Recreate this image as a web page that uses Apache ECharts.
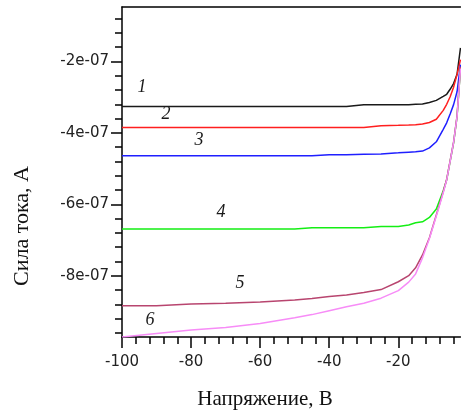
<!DOCTYPE html>
<html>
<head>
<meta charset="utf-8">
<script src="https://cdn.jsdelivr.net/npm/echarts@6/dist/echarts.min.js"></script>
<style>
  html, body { margin: 0; padding: 0; background: #fff; }
  #chart { width: 461px; height: 414px; }
</style>
</head>
<body>
<div id="chart"></div>
<script>
// Reverse-bias I–V curves of six samples.
// Voltage in volts; currents in units of 1e-7 A.
const voltage  = [-100, -90, -80, -70, -60, -50, -45, -40, -35, -30, -25, -20, -17, -15, -13, -11, -9, -7, -6, -5, -4, -3, -2];
const current1 = [-3.26, -3.26, -3.26, -3.26, -3.26, -3.26, -3.26, -3.26, -3.26, -3.21, -3.21, -3.21, -3.21, -3.20, -3.19, -3.15, -3.09, -2.98, -2.92, -2.78, -2.62, -2.36, -1.62];
const current2 = [-3.85, -3.85, -3.85, -3.85, -3.85, -3.85, -3.85, -3.85, -3.85, -3.85, -3.80, -3.79, -3.78, -3.77, -3.75, -3.71, -3.62, -3.37, -3.20, -2.99, -2.72, -2.37, -1.95];
const current3 = [-4.64, -4.64, -4.64, -4.64, -4.64, -4.64, -4.64, -4.61, -4.61, -4.60, -4.59, -4.56, -4.54, -4.53, -4.51, -4.42, -4.25, -3.90, -3.72, -3.47, -3.21, -2.85, -2.09];
const current4 = [-6.69, -6.69, -6.69, -6.69, -6.69, -6.69, -6.66, -6.66, -6.66, -6.66, -6.62, -6.62, -6.58, -6.52, -6.49, -6.37, -6.13, -5.62, -5.32, -4.80, -4.28, -3.55, -2.20];
const current5 = [-8.84, -8.84, -8.79, -8.77, -8.74, -8.68, -8.64, -8.58, -8.54, -8.47, -8.39, -8.17, -8.00, -7.78, -7.42, -6.94, -6.30, -5.65, -5.30, -4.78, -4.26, -3.53, -2.15];
const current6 = [-9.72, -9.62, -9.52, -9.45, -9.34, -9.18, -9.09, -8.98, -8.87, -8.77, -8.63, -8.42, -8.18, -7.95, -7.50, -6.96, -6.33, -5.68, -5.32, -4.80, -4.27, -3.55, -2.20];
const currentUnit = 1e-7;

const curveNames  = ['1', '2', '3', '4', '5', '6'];
const curveColors = ['#1a1a1a', '#ff1f1f', '#1f1fff', '#14ee14', '#b8456f', '#f78cf7'];

const xMajorTicks = [-100, -80, -60, -40, -20];
const xMinorTicks = [-96, -92, -88, -84, -76, -72, -68, -64, -56, -52, -48, -44, -36, -32, -28, -24, -16, -12, -8, -4];
const yMajorTicks = [-8e-7, -6e-7, -4e-7, -2e-7];
const yMinorTicks = [-9.6e-7, -9.2e-7, -8.8e-7, -8.4e-7, -7.6e-7, -7.2e-7, -6.8e-7, -6.4e-7,
                     -5.6e-7, -5.2e-7, -4.8e-7, -4.4e-7, -3.6e-7, -3.2e-7, -2.8e-7, -2.4e-7,
                     -1.6e-7, -1.2e-7, -0.8e-7];

const xMin = -100, xMax = -2;
const yMin = -9.717e-7, yMax = -0.476e-7;

const xTitle = 'Напряжение, В';
const yTitle = 'Сила тока, А';

const allCurrents = [current1, current2, current3, current4, current5, current6];

// "-2e-07" style exponent labels
function expLabel(v) {
  const s = Number(v).toExponential(0);
  return s.replace(/e([+-])(\d)$/, 'e$10$2');
}

const axisStroke = { color: '#000', width: 1.5 };
const tickFont = { fontFamily: 'DejaVu Sans', fontSize: 15, color: '#222' };

const chart = echarts.init(document.getElementById('chart'), null, { renderer: 'canvas' });

const series = allCurrents.map((arr, i) => ({
  name: curveNames[i],
  type: 'line',
  xAxisIndex: 0,
  yAxisIndex: 0,
  showSymbol: false,
  symbol: 'none',
  smooth: false,
  silent: true,
  lineStyle: { color: curveColors[i], width: 1.5 },
  data: voltage.map((v, k) => [v, arr[k] * currentUnit])
}));

// Curve number captions
const captionPos = [[142, 87], [166, 114], [199, 140], [221, 212], [240, 283], [150, 320]];
const captions = curveNames.map((n, i) => ({
  type: 'text',
  x: captionPos[i][0],
  y: captionPos[i][1],
  style: {
    text: n,
    font: 'italic 18px "Liberation Serif"',
    fill: '#1a1a1a',
    align: 'center',
    verticalAlign: 'middle'
  }
}));

chart.setOption({
  animation: false,
  backgroundColor: '#fff',
  grid: { left: 122, right: 0.5, top: 7, bottom: 77, containLabel: false, outerBoundsMode: 'none' },
  xAxis: [
    {
      type: 'value', min: xMin, max: xMax, position: 'bottom',
      axisLine: { show: true, onZero: false, lineStyle: axisStroke },
      axisTick: { show: true, customValues: xMajorTicks, length: 11, lineStyle: axisStroke },
      axisLabel: Object.assign({ customValues: xMajorTicks, margin: 18 }, tickFont),
      splitLine: { show: false }
    },
    {
      type: 'value', min: xMin, max: xMax, position: 'bottom',
      axisLine: { show: false },
      axisTick: { show: true, customValues: xMinorTicks, length: 7, lineStyle: axisStroke },
      axisLabel: { show: false },
      splitLine: { show: false }
    },
    {
      type: 'value', min: xMin, max: xMax, position: 'top',
      axisLine: { show: true, onZero: false, lineStyle: axisStroke },
      axisTick: { show: false },
      axisLabel: { show: false },
      splitLine: { show: false }
    }
  ],
  yAxis: [
    {
      type: 'value', min: yMin, max: yMax, position: 'left',
      axisLine: { show: true, onZero: false, lineStyle: axisStroke },
      axisTick: { show: true, customValues: yMajorTicks, length: 11, lineStyle: axisStroke },
      axisLabel: Object.assign({ customValues: yMajorTicks, margin: 13, formatter: expLabel }, tickFont),
      splitLine: { show: false }
    },
    {
      type: 'value', min: yMin, max: yMax, position: 'left',
      axisLine: { show: false },
      axisTick: { show: true, customValues: yMinorTicks, length: 7, lineStyle: axisStroke },
      axisLabel: { show: false },
      splitLine: { show: false }
    }
  ],
  series: series,
  graphic: [
    {
      type: 'text', x: 265, y: 399,
      style: { text: xTitle, font: '21px "Liberation Serif"', fill: '#111', align: 'center', verticalAlign: 'middle' }
    },
    {
      type: 'text', x: 22, y: 226, rotation: Math.PI / 2,
      style: { text: yTitle, font: '22px "Liberation Serif"', fill: '#111', align: 'center', verticalAlign: 'middle' }
    }
  ].concat(captions)
});
</script>
</body>
</html>
